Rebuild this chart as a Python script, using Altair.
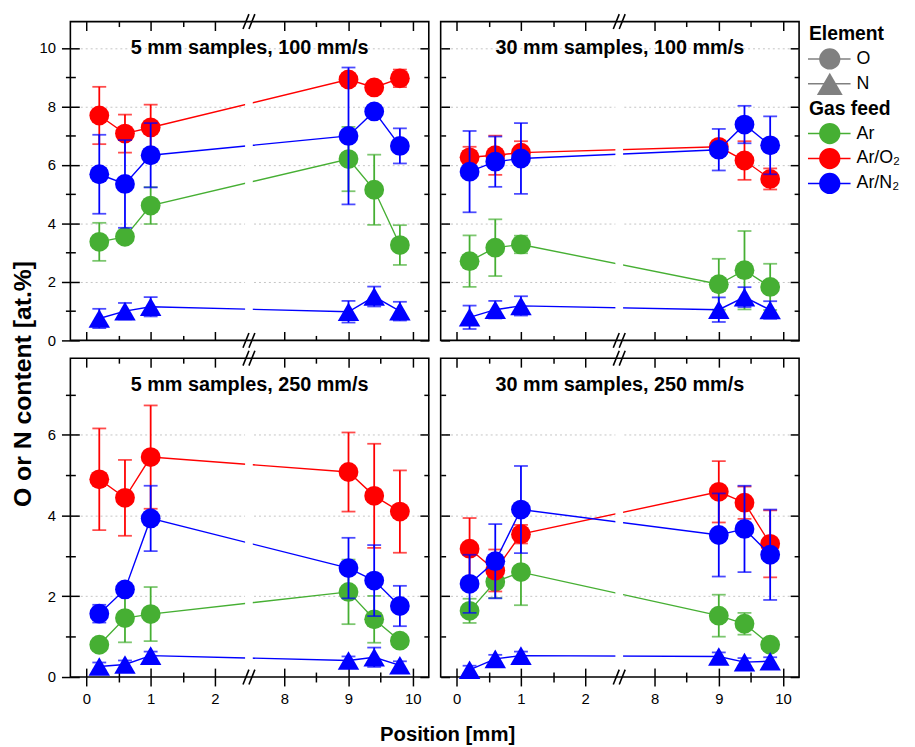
import altair as alt
import pandas as pd

FONT = "Liberation Sans"

# ---------------- data ----------------
positions = [0.2, 0.6, 1.0, 9.0, 9.4, 9.8]

# 5 mm samples, 100 mm/s
tl_ar = [3.37, 3.54, 4.61, 6.20, 5.15, 3.26]
tl_ar_err = [0.65, 0.20, 0.63, 1.10, 1.20, 0.68]
tl_o2 = [7.69, 7.07, 7.28, 8.92, 8.65, 8.96]
tl_o2_err = [0.98, 0.65, 0.78, 0.20, 0.10, 0.30]
tl_n2 = [5.68, 5.35, 6.33, 6.99, 7.83, 6.65]
tl_n2_err = [1.35, 1.50, 1.10, 2.34, 0.15, 0.60]
tl_n = [0.75, 1.00, 1.15, 0.98, 1.50, 1.00]
tl_n_err = [0.33, 0.28, 0.33, 0.37, 0.34, 0.32]

# 30 mm samples, 100 mm/s
tr_ar = [2.71, 3.17, 3.28, 1.92, 2.40, 1.83]
tr_ar_err = [0.88, 0.97, 0.30, 0.87, 1.34, 0.79]
tr_o2 = [6.26, 6.33, 6.42, 6.62, 6.15, 5.52]
tr_o2_err = [0.36, 0.67, 0.39, 0.15, 0.66, 0.36]
tr_n2 = [5.77, 6.11, 6.22, 6.52, 7.38, 6.67]
tr_n2_err = [1.39, 0.86, 1.21, 0.71, 0.64, 0.99]
tr_n = [0.79, 1.05, 1.18, 1.05, 1.48, 1.04]
tr_n_err = [0.40, 0.30, 0.33, 0.42, 0.34, 0.30]

# 5 mm samples, 250 mm/s
bl_ar = [0.80, 1.46, 1.56, 2.11, 1.43, 0.90]
bl_ar_err = [0.10, 0.60, 0.67, 0.80, 0.58, 0.10]
bl_o2 = [4.90, 4.44, 5.45, 5.08, 4.49, 4.10]
bl_o2_err = [1.26, 0.94, 1.28, 0.98, 1.29, 1.02]
bl_n2 = [1.57, 2.17, 3.93, 2.70, 2.39, 1.76]
bl_n2_err = [0.22, 0.10, 0.81, 0.75, 0.88, 0.50]
bl_n = [0.26, 0.31, 0.53, 0.41, 0.49, 0.29]
bl_n_err = [0.10, 0.10, 0.10, 0.10, 0.24, 0.10]

# 30 mm samples, 250 mm/s
br_ar = [1.64, 2.36, 2.60, 1.52, 1.32, 0.80]
br_ar_err = [0.30, 0.40, 0.82, 0.52, 0.27, 0.10]
br_o2 = [3.18, 2.64, 3.54, 4.59, 4.32, 3.30]
br_o2_err = [0.76, 0.52, 0.23, 0.76, 0.40, 0.83]
br_n2 = [2.31, 2.87, 4.15, 3.52, 3.67, 3.03]
br_n2_err = [0.72, 0.92, 1.08, 1.03, 1.07, 1.12]
br_n = [0.18, 0.45, 0.53, 0.51, 0.37, 0.39]
br_n_err = [0.10, 0.10, 0.10, 0.10, 0.10, 0.10]

panel_titles = ["5 mm samples, 100 mm/s", "30 mm samples, 100 mm/s",
                "5 mm samples, 250 mm/s", "30 mm samples, 250 mm/s"]
gas_labels = ["Ar", "Ar/O₂", "Ar/N₂"]
element_labels = ["O", "N"]
legend_titles = ["Element", "Gas feed"]
x_title = "Position [mm]"
y_title = "O or N content [at.%]"

x_major = [0, 1, 2, 8, 9, 10]
x_minor = [0.5, 1.5, 8.5, 9.5]
x_domain = [-0.25, 2.53, 7.45, 10.25]   # broken axis: 0..2.53 | 7.45..10.25
gap = [2.47, 7.51]
y_top_max = 10.9
y_bot_max = 7.9
y_top_major = [0, 2, 4, 6, 8, 10]
y_top_minor = [1, 3, 5, 7, 9]
y_bot_major = [0, 2, 4, 6]
y_bot_minor = [1, 3, 5, 7]

# ---------------- styling ----------------
GREEN, RED, BLUE, GREY = "#46AF33", "#FF0000", "#0000FF", "#808080"
W, H = 362, 322
SLASHES = [(-6, 0), (0, 6)]   # (bottom, top) x-offsets of the two break strokes
SLASH_H = 7.5


def tick_axis(orient, values, size, inward=False, labels=False):
    kw = dict(orient=orient, values=values, title=None, domain=False, grid=False,
              ticks=True, tickSize=size, tickColor="black", tickWidth=1.5, labels=labels)
    if inward:
        kw["offset"] = -size
    if labels:
        kw.update(labelFont=FONT, labelFontSize=15, labelColor="black",
                  labelPadding=6, labelOverlap=False, labelFlush=False)
    return alt.Axis(**kw)


def grid_axis(values):
    return alt.Axis(orient="left", values=values, title=None, domain=False, ticks=False,
                    labels=False, grid=True, gridColor="#c4c4c4", gridDash=[2, 3], gridWidth=1)


def panel(series, title, bottom_row, left_col, y_max, y_major, y_minor, extra=None):
    sl = x_domain[1] - x_domain[0]
    sr = x_domain[3] - x_domain[2]
    bpx = W * sl / (sl + sr)
    xs = alt.Scale(domain=x_domain, range=[0, bpx, bpx, W], nice=False, zero=False)
    ys = alt.Scale(domain=[0, y_max], nice=False, zero=False)

    grid_vals = [v for v in y_major if v > 0]
    x_axes = [tick_axis("bottom", x_major, 9, inward=True),
              tick_axis("bottom", x_minor, 5, inward=True),
              tick_axis("top", x_major, 9, inward=True),
              tick_axis("top", x_minor, 5, inward=True)]
    if bottom_row:
        x_axes += [tick_axis("bottom", x_major, 9, labels=True),
                   tick_axis("bottom", x_minor, 5)]
    y_axes = [grid_axis(grid_vals),
              tick_axis("left", y_major, 9, inward=True),
              tick_axis("left", y_minor, 5, inward=True),
              tick_axis("right", y_major, 9, inward=True),
              tick_axis("right", y_minor, 5, inward=True)]
    if left_col:
        y_axes += [tick_axis("left", y_major, 9, labels=True),
                   tick_axis("left", y_minor, 5)]

    layers = []
    k = 0

    def axes():
        nonlocal k
        ax = x_axes[k] if k < len(x_axes) else None
        ay = y_axes[k] if k < len(y_axes) else None
        k += 1
        return ax, ay

    for vals, errs, color, shape, size in series:
        df = pd.DataFrame({"x": positions, "v": vals,
                           "lo": [a - b for a, b in zip(vals, errs)],
                           "hi": [a + b for a, b in zip(vals, errs)]})
        caps = pd.DataFrame({"x": positions * 2, "c": list(df["lo"]) + list(df["hi"])})
        ax, ay = axes()
        layers.append(alt.Chart(df).mark_line(color=color, strokeWidth=1.4).encode(
            x=alt.X("x:Q", scale=xs, axis=ax), y=alt.Y("v:Q", scale=ys, axis=ay)))
        ax, ay = axes()
        layers.append(alt.Chart(df).mark_rule(color=color, strokeWidth=1.8).encode(
            x=alt.X("x:Q", scale=xs, axis=ax), y=alt.Y("lo:Q", scale=ys, axis=ay), y2="hi:Q"))
        ax, ay = axes()
        layers.append(alt.Chart(caps).mark_tick(color=color, orient="horizontal", size=14,
                                                thickness=1.8).encode(
            x=alt.X("x:Q", scale=xs, axis=ax), y=alt.Y("c:Q", scale=ys, axis=ay)))
        ax, ay = axes()
        layers.append(alt.Chart(df).mark_point(color=color, filled=True, opacity=1, shape=shape,
                                               size=size).encode(
            x=alt.X("x:Q", scale=xs, axis=ax), y=alt.Y("v:Q", scale=ys, axis=ay)))

    gap_df = pd.DataFrame({"a": [gap[0]], "b": [gap[1]]})
    layers.append(alt.Chart(gap_df).mark_rect(color="white").encode(
        x=alt.X("a:Q", scale=xs, axis=None), x2="b:Q", y=alt.value(3), y2=alt.value(H - 3)))
    brk_df = pd.DataFrame({"x": [x_domain[1]]})
    for yy in (0, H):
        for off_b, off_t in SLASHES:
            layers.append(alt.Chart(brk_df).mark_rule(
                color="black", strokeWidth=1.6, xOffset=off_b, x2Offset=off_t).encode(
                x=alt.X("x:Q", scale=xs, axis=None), x2="x:Q",
                y=alt.value(yy + SLASH_H), y2=alt.value(yy - SLASH_H)))
    layers.append(alt.Chart(pd.DataFrame({"t": [title]})).mark_text(
        fontSize=20, fontWeight="bold", font=FONT, color="black", baseline="middle").encode(
        text="t:N", x=alt.value(W / 2), y=alt.value(27)))
    if extra is not None:
        layers += extra
    return alt.layer(*layers).resolve_axis(x="independent", y="independent").properties(
        width=W, height=H, view=alt.ViewBackground(stroke="black", strokeWidth=1.6))


def series_of(ar, ar_e, o2, o2_e, n2, n2_e, n, n_e):
    return [(ar, ar_e, GREEN, "circle", 400), (o2, o2_e, RED, "circle", 400),
            (n2, n2_e, BLUE, "circle", 400), (n, n_e, BLUE, "triangle-up", 470)]


ytitle_layer = alt.Chart(pd.DataFrame({"t": [y_title]})).mark_text(
    angle=270, fontSize=25, fontWeight="bold", font=FONT, color="black", baseline="middle").encode(
    text="t:N", x=alt.value(-47.5), y=alt.value(366))
xtitle_layer = alt.Chart(pd.DataFrame({"t": [x_title]})).mark_text(
    fontSize=20.5, fontWeight="bold", font=FONT, color="black", baseline="middle").encode(
    text="t:N", x=alt.value(381), y=alt.value(H + 59))

tl = panel(series_of(tl_ar, tl_ar_err, tl_o2, tl_o2_err, tl_n2, tl_n2_err, tl_n, tl_n_err),
           panel_titles[0], False, True, y_top_max, y_top_major, y_top_minor, [ytitle_layer])
tr = panel(series_of(tr_ar, tr_ar_err, tr_o2, tr_o2_err, tr_n2, tr_n2_err, tr_n, tr_n_err),
           panel_titles[1], False, False, y_top_max, y_top_major, y_top_minor)
bl = panel(series_of(bl_ar, bl_ar_err, bl_o2, bl_o2_err, bl_n2, bl_n2_err, bl_n, bl_n_err),
           panel_titles[2], True, True, y_bot_max, y_bot_major, y_bot_minor, [xtitle_layer])
br = panel(series_of(br_ar, br_ar_err, br_o2, br_o2_err, br_n2, br_n2_err, br_n, br_n_err),
           panel_titles[3], True, False, y_bot_max, y_bot_major, y_bot_minor)

# ---------------- legend ----------------
leg_labels = [legend_titles[0]] + element_labels + [legend_titles[1]] + gas_labels
leg_kind = ["title", "item", "item", "title", "item", "item", "item"]
leg_df = pd.DataFrame({"idx": list(range(len(leg_labels))), "label": leg_labels, "kind": leg_kind})
item_names = element_labels + gas_labels
color_scale = alt.Scale(domain=item_names, range=[GREY, GREY, GREEN, RED, BLUE])
ly = alt.Y("idx:O", axis=None, scale=alt.Scale(domain=list(range(len(leg_labels)))))
lbase = alt.Chart(leg_df).encode(y=ly)
items = lbase.transform_filter("datum.kind == 'item'")
LX = -3
legend = alt.layer(
    lbase.transform_filter("datum.kind == 'title'").mark_text(
        align="left", baseline="middle", fontSize=19.5, fontWeight="bold", font=FONT,
        color="black").encode(x=alt.value(LX + 1), text="label:N"),
    items.mark_rule(strokeWidth=1.5).encode(
        x=alt.value(LX), x2=alt.value(LX + 43),
        color=alt.Color("label:N", scale=color_scale, legend=None)),
    items.transform_filter("datum.label != 'N'").mark_point(
        filled=True, opacity=1, shape="circle", size=460).encode(
        x=alt.value(LX + 22), color=alt.Color("label:N", scale=color_scale, legend=None)),
    items.transform_filter("datum.label == 'N'").mark_point(
        filled=True, opacity=1, shape="triangle-up", size=680).encode(
        x=alt.value(LX + 22), color=alt.Color("label:N", scale=color_scale, legend=None)),
    items.mark_text(align="left", baseline="middle", fontSize=18, font=FONT, color="black").encode(
        x=alt.value(LX + 49), text="label:N"),
).properties(width=95, height=176, view=alt.ViewBackground(strokeWidth=0))

chart = alt.concat(tl, tr, legend, bl, br, columns=3, spacing={"row": 18, "column": 12},
                   bounds="flush").properties(
    padding={"left": 2, "top": 0, "right": 2, "bottom": 2}
).configure(font=FONT).configure_view(strokeWidth=0)

chart.save("out.html", embed_options={"renderer": "svg", "actions": False})
